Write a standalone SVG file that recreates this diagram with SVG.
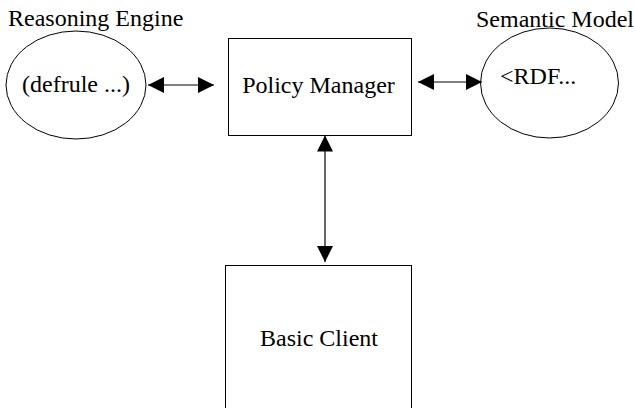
<svg xmlns="http://www.w3.org/2000/svg" width="635" height="408" viewBox="0 0 635 408">
  <defs>
    <style>
      .shape { fill: #ffffff; stroke: #000000; stroke-width: 1; }
      .link { fill: none; stroke: #000000; stroke-width: 1.2; }
      .label { font-size: 24px; fill: #000000; }
      .mid { text-anchor: middle; }
    </style>
    <marker id="head" viewBox="0 0 16 16" refX="16" refY="8" markerWidth="16" markerHeight="16" markerUnits="userSpaceOnUse" orient="auto-start-reverse">
      <path d="M0,0 L16,8 L0,16 Z" fill="#000000"/>
    </marker>
  </defs>
  <rect width="635" height="408" fill="#ffffff"/>

  <g font-family="'Liberation Serif', 'DejaVu Serif', 'Times New Roman', serif">
    <g id="reasoning-engine">
      <ellipse class="shape" cx="76" cy="85" rx="70" ry="54"/>
      <text class="label" x="8" y="26">Reasoning Engine</text>
      <text class="label mid" x="76" y="92">(defrule ...)</text>
    </g>

    <g id="semantic-model">
      <ellipse class="shape" cx="549.5" cy="83" rx="69" ry="55"/>
      <text class="label" x="476" y="27">Semantic Model</text>
      <text class="label" x="500" y="84">&lt;RDF...</text>
    </g>

    <g id="policy-manager">
      <rect class="shape" x="228.5" y="38.5" width="183" height="97"/>
      <text class="label mid" x="318.5" y="93">Policy Manager</text>
    </g>

    <g id="basic-client">
      <rect class="shape" x="225.5" y="265.5" width="186" height="143"/>
      <text class="label mid" x="319" y="346">Basic Client</text>
    </g>
  </g>

  <g id="connectors">
    <line class="link" x1="148" y1="85" x2="214" y2="85" marker-start="url(#head)" marker-end="url(#head)"/>
    <line class="link" x1="418" y1="82" x2="482" y2="82" marker-start="url(#head)" marker-end="url(#head)"/>
    <line class="link" x1="325" y1="135.5" x2="325" y2="262" marker-start="url(#head)" marker-end="url(#head)"/>
  </g>
</svg>
